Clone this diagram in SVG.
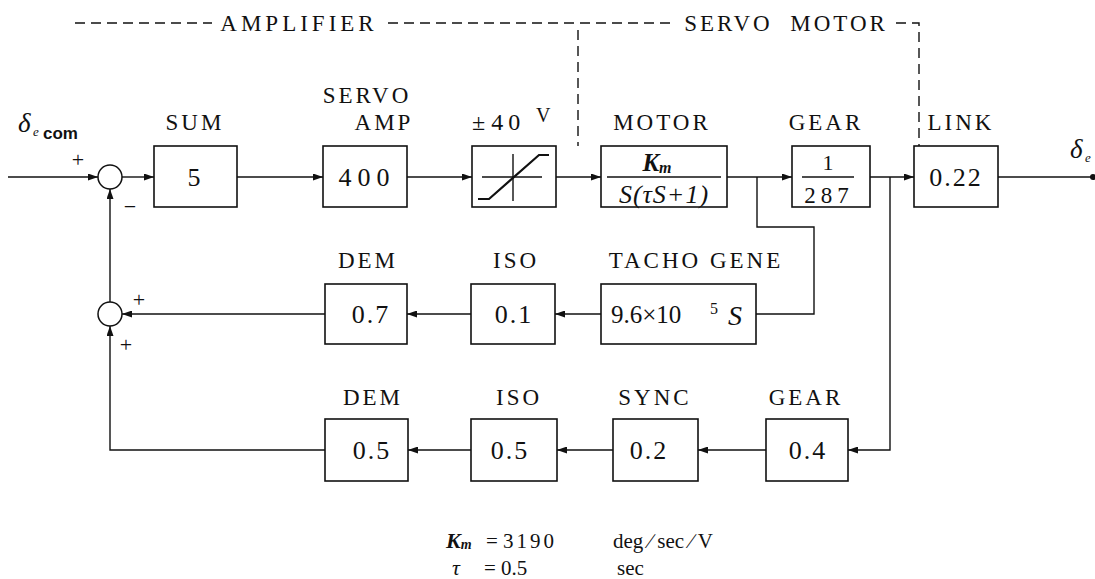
<svg xmlns="http://www.w3.org/2000/svg" width="1095" height="579" viewBox="0 0 1095 579">
<defs>
<marker id="ah" markerWidth="10" markerHeight="7" refX="10" refY="3.5" orient="auto" markerUnits="userSpaceOnUse">
<path d="M0,0 L10,3.5 L0,7 z" fill="#111"/>
</marker>
<style>
text{font-family:Liberation Serif, DejaVu Serif, serif;fill:#111}
.bx{fill:#fff;stroke:#111;stroke-width:1.6}
.ln{fill:none;stroke:#111;stroke-width:1.4}
.ar{fill:none;stroke:#111;stroke-width:1.4;marker-end:url(#ah)}
.ds{fill:none;stroke:#111;stroke-width:1.4;stroke-dasharray:10 6}
.lb{font-size:23px;letter-spacing:3px;text-anchor:middle}
.vl{font-size:26px;letter-spacing:2px;text-anchor:middle}
.it{font-style:italic}
.sg{font-size:22px;text-anchor:middle}
</style>
</defs>
<rect width="1095" height="579" fill="#fff"/>

<g id="frame">
<path class="ds" d="M75,23 H212"/>
<text class="lb" x="299" y="31" style="letter-spacing:4px">AMPLIFIER</text>
<path class="ds" d="M388,23 H673"/>
<text class="lb" x="786" y="31" xml:space="preserve">SERVO  MOTOR</text>
<path class="ds" d="M896,23 H919 V146"/>
<path class="ds" d="M578,30 V146"/>
</g>

<g id="connectors">
<path class="ar" d="M8,177 H98"/>
<path class="ar" d="M122,177 H154"/>
<path class="ar" d="M237,177 H323"/>
<path class="ar" d="M407,177 H472"/>
<path class="ar" d="M556,177 H601"/>
<path class="ar" d="M727,177 H792"/>
<path class="ar" d="M870,177 H914"/>
<path class="ln" d="M998,177 H1093"/>
<circle cx="1093" cy="177" r="3" fill="#111"/>
<path class="ln" d="M757,177 V227 H814 V314 H756"/>
<path class="ar" d="M601,314 H555"/>
<path class="ar" d="M471,314 H407"/>
<path class="ar" d="M325,314 H122"/>
<path class="ar" d="M110,302 V189"/>
<path class="ar" d="M890,177 V450 H848"/>
<path class="ar" d="M766,450 H698"/>
<path class="ar" d="M613,450 H557"/>
<path class="ar" d="M471,450 H408"/>
<path class="ar" d="M325,450 H110 V326"/>
</g>

<g id="input">
<text class="it" x="18" y="132" font-size="27">δ</text>
<text class="it" x="33" y="136" font-size="13">e</text>
<text x="43" y="139" style="font-family:Liberation Sans, Arial, sans-serif" font-size="17" font-weight="bold">com</text>
</g>

<g id="sum1">
<circle cx="110" cy="177" r="12" fill="#fff" stroke="#111" stroke-width="1.5"/>
<text class="sg" x="78" y="167">+</text>
<text class="sg" x="130" y="214">−</text>
</g>

<g id="sum2">
<circle cx="110" cy="314" r="12" fill="#fff" stroke="#111" stroke-width="1.5"/>
<text class="sg" x="139" y="307">+</text>
<text class="sg" x="126" y="352">+</text>
</g>

<g id="sum-gain">
<text class="lb" x="195" y="130">SUM</text>
<rect class="bx" x="154" y="146" width="83" height="61"/>
<text class="vl" x="195" y="186">5</text>
</g>

<g id="servo-amp">
<text class="lb" x="367" y="103">SERVO</text>
<text class="lb" x="384" y="130">AMP</text>
<rect class="bx" x="323" y="146" width="84" height="61"/>
<text class="vl" x="367" y="186" style="letter-spacing:6px">400</text>
</g>

<g id="limiter">
<text x="472" y="130" font-size="24">± <tspan letter-spacing="5">40</tspan></text>
<text x="536" y="122" font-size="20">V</text>
<rect class="bx" x="472" y="146" width="84" height="61"/>
<path class="ln" d="M482,177 H542 M513,154 V201"/>
<path d="M478,199 H489 L539,155 H549" fill="none" stroke="#111" stroke-width="2.2"/>
</g>

<g id="motor">
<text class="lb" x="662" y="130">MOTOR</text>
<rect class="bx" x="601" y="146" width="126" height="61"/>
<path class="ln" d="M607,177 H721"/>
<text class="it" x="657" y="171" font-size="25" font-weight="bold" text-anchor="middle">K<tspan font-size="16" dy="2">m</tspan></text>
<text class="it" x="664" y="203" font-size="26" text-anchor="middle" letter-spacing="1">S(τS+1)</text>
</g>

<g id="gear1">
<text class="lb" x="826" y="130">GEAR</text>
<rect class="bx" x="792" y="146" width="78" height="61"/>
<path class="ln" d="M802,177 H854"/>
<text class="vl" x="829" y="170" style="font-size:22px">1</text>
<text class="vl" x="829" y="203" style="font-size:23px;letter-spacing:5px">287</text>
</g>

<g id="link">
<text class="lb" x="961" y="130">LINK</text>
<rect class="bx" x="914" y="146" width="84" height="61"/>
<text class="vl" x="956" y="186">0.22</text>
<text class="it" x="1070" y="158" font-size="27">δ</text>
<text class="it" x="1085" y="162" font-size="13">e</text>
</g>

<g id="dem1">
<text class="lb" x="368" y="268">DEM</text>
<rect class="bx" x="325" y="284" width="82" height="60"/>
<text class="vl" x="371" y="323">0.7</text>
</g>

<g id="iso1">
<text class="lb" x="516" y="268">ISO</text>
<rect class="bx" x="471" y="284" width="84" height="60"/>
<text class="vl" x="514" y="323">0.1</text>
</g>

<g id="tacho">
<text class="lb" x="696" y="268">TACHO GENE</text>
<rect class="bx" x="601" y="284" width="155" height="60"/>
<text x="611" y="323" font-size="25">9.6×10</text>
<text x="710" y="314" font-size="16">5</text>
<text class="it" x="728" y="325" font-size="28">S</text>
</g>

<g id="dem2">
<text class="lb" x="373" y="405">DEM</text>
<rect class="bx" x="325" y="419" width="83" height="62"/>
<text class="vl" x="372" y="459">0.5</text>
</g>

<g id="iso2">
<text class="lb" x="519" y="405">ISO</text>
<rect class="bx" x="471" y="419" width="86" height="62"/>
<text class="vl" x="510" y="459">0.5</text>
</g>

<g id="sync">
<text class="lb" x="655" y="405">SYNC</text>
<rect class="bx" x="613" y="419" width="85" height="62"/>
<text class="vl" x="649" y="459">0.2</text>
</g>

<g id="gear2">
<text class="lb" x="806" y="405">GEAR</text>
<rect class="bx" x="766" y="419" width="82" height="62"/>
<text class="vl" x="808" y="459">0.4</text>
</g>

<g id="params">
<text class="it" x="446" y="548" font-size="22" font-weight="bold">K<tspan font-size="14" dy="1">m</tspan></text>
<text x="486" y="548" font-size="21">= <tspan letter-spacing="3">3190</tspan></text>
<text x="613" y="548" font-size="21">deg ∕ sec ∕ V</text>
<text class="it" x="452" y="575" font-size="22">τ</text>
<text x="484" y="575" font-size="21">= 0.5</text>
<text x="617" y="575" font-size="21">sec</text>
</g>
</svg>
